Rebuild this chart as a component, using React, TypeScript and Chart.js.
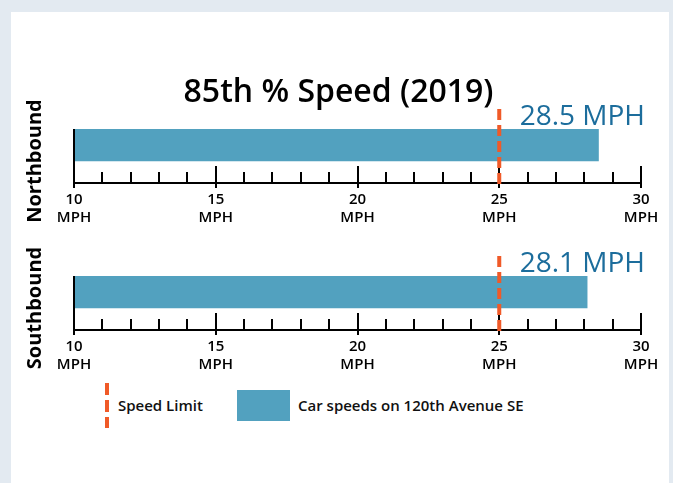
import React, { useEffect, useRef } from 'react';
import { Chart, registerables } from 'chart.js';

Chart.register(...registerables);

// ---- data ----
const TITLE = '85th % Speed (2019)';
const directions = ['Northbound', 'Southbound'];
const speeds85 = [28.5, 28.1];
const speedLimit = 25;
const axisMin = 10;
const axisMax = 30;
const majorStep = 5;
const minorStep = 1;
const unit = 'MPH';
const legendLabels = ['Speed Limit', 'Car speeds on 120th Avenue SE'];

// ---- styles ----
const BAR = '#52a1bf';
const ORANGE = '#f05a28';
const VALUE_BLUE = '#1c6d9c';
const PAGE_BG = '#e3eaf1';
const FONT = '"Open Sans", "Noto Sans", sans-serif';
const CW = 673;
const CH = 235;

function makeChart(canvas: HTMLCanvasElement, idx: number) {
  const overlay = {
    id: 'overlay' + idx,
    afterDraw(chart: any) {
      const { ctx, chartArea: a, scales } = chart;
      const xs = scales.x;
      ctx.save();
      // left axis line
      ctx.strokeStyle = '#000';
      ctx.lineWidth = 2;
      ctx.beginPath();
      ctx.moveTo(a.left, a.top);
      ctx.lineTo(a.left, a.bottom + 1);
      ctx.stroke();
      // inward tick marks
      for (let v = axisMin; v <= axisMax; v += minorStep) {
        const px = Math.round(xs.getPixelForValue(v));
        const major = v % majorStep === 0;
        ctx.beginPath();
        ctx.moveTo(px, a.bottom - (major ? 17 : 11));
        ctx.lineTo(px, a.bottom + (major ? 5 : 0));
        ctx.stroke();
      }
      // speed limit
      const sx = xs.getPixelForValue(speedLimit);
      ctx.strokeStyle = ORANGE;
      ctx.lineWidth = 4;
      ctx.setLineDash([11, 5]);
      ctx.beginPath();
      ctx.moveTo(sx, a.top - 20);
      ctx.lineTo(sx, a.bottom + 5);
      ctx.stroke();
      ctx.setLineDash([]);
      // value label
      ctx.fillStyle = VALUE_BLUE;
      ctx.font = `500 28px ${FONT}`;
      ctx.textAlign = 'right';
      ctx.textBaseline = 'alphabetic';
      ctx.fillText(`${speeds85[idx]} ${unit}`, a.right + 4, a.top - 4);
      // direction label
      ctx.save();
      ctx.translate(35, (a.top + a.bottom) / 2 + 5);
      ctx.rotate(-Math.PI / 2);
      ctx.fillStyle = '#000';
      ctx.font = `700 20px ${FONT}`;
      ctx.textAlign = 'center';
      ctx.textBaseline = 'middle';
      ctx.fillText(directions[idx], 0, 0);
      ctx.restore();
      // title
      if (idx === 0) {
        ctx.fillStyle = '#000';
        ctx.font = `600 32px ${FONT}`;
        ctx.textAlign = 'center';
        ctx.textBaseline = 'alphabetic';
        ctx.fillText(TITLE, chart.width / 2 + 2, 102);
      }
      ctx.restore();
    },
  };

  return new Chart(canvas, {
    type: 'bar',
    data: {
      datasets: [
        {
          label: legendLabels[1],
          data: [{ x: speeds85[idx], y: 0 }],
          backgroundColor: BAR,
          borderWidth: 0,
          barThickness: 32,
          base: axisMin,
        } as any,
      ],
    },
    options: {
      indexAxis: 'y',
      animation: false,
      responsive: false,
      devicePixelRatio: 1,
      layout: { padding: { left: 74, right: 32, top: 129, bottom: 12 } },
      plugins: {
        legend: { display: false },
        tooltip: { enabled: false },
        title: { display: false },
      },
      scales: {
        x: {
          type: 'linear',
          position: 'bottom',
          min: axisMin,
          max: axisMax,
          grid: { display: false, drawTicks: false },
          border: { display: true, color: '#000', width: 2 },
          ticks: {
            stepSize: minorStep,
            autoSkip: false,
            maxRotation: 0,
            padding: 8,
            color: '#000',
            font: { family: FONT, size: 15, weight: '600', lineHeight: 1.2 } as any,
            callback: (v: any) => (Number(v) % majorStep === 0 ? [String(v), unit] : ''),
          },
          afterFit: (s: any) => {
            s.height = 40;
          },
        },
        y: {
          type: 'linear',
          display: false,
          offset: false,
          min: -0.5,
          max: 1.1875,
          reverse: true,
        },
      },
    } as any,
    plugins: [overlay],
  });
}

function SpeedChart({ idx, top }: { idx: number; top: number }) {
  const ref = useRef<HTMLCanvasElement>(null);
  useEffect(() => {
    if (!ref.current) return;
    const c = makeChart(ref.current, idx);
    return () => c.destroy();
  }, [idx]);
  return (
    <canvas
      ref={ref}
      width={CW}
      height={CH}
      style={{ position: 'absolute', left: 0, top, width: CW, height: CH, display: 'block' }}
    />
  );
}

export default function App() {
  const textStyle: React.CSSProperties = {
    position: 'absolute',
    top: 395,
    lineHeight: '21px',
    fontFamily: FONT,
    fontWeight: 600,
    fontSize: 15,
    color: '#111',
    whiteSpace: 'nowrap',
  };
  return (
    <div
      style={{
        position: 'fixed',
        left: 0,
        top: 0,
        width: 673,
        height: 483,
        background: PAGE_BG,
        overflow: 'hidden',
      }}
    >
      <div
        style={{ position: 'absolute', left: 11, top: 12, width: 658, height: 480, background: '#fff' }}
      />
      <SpeedChart idx={0} top={0} />
      <SpeedChart idx={1} top={147} />
      <div
        style={{
          position: 'absolute',
          left: 105,
          top: 383,
          width: 4,
          height: 45,
          background: `repeating-linear-gradient(to bottom, ${ORANGE} 0px, ${ORANGE} 12px, transparent 12px, transparent 17px)`,
        }}
      />
      <div style={{ ...textStyle, left: 118 }}>{legendLabels[0]}</div>
      <div
        style={{ position: 'absolute', left: 237, top: 390, width: 53, height: 31, background: BAR }}
      />
      <div style={{ ...textStyle, left: 298 }}>{legendLabels[1]}</div>
    </div>
  );
}
